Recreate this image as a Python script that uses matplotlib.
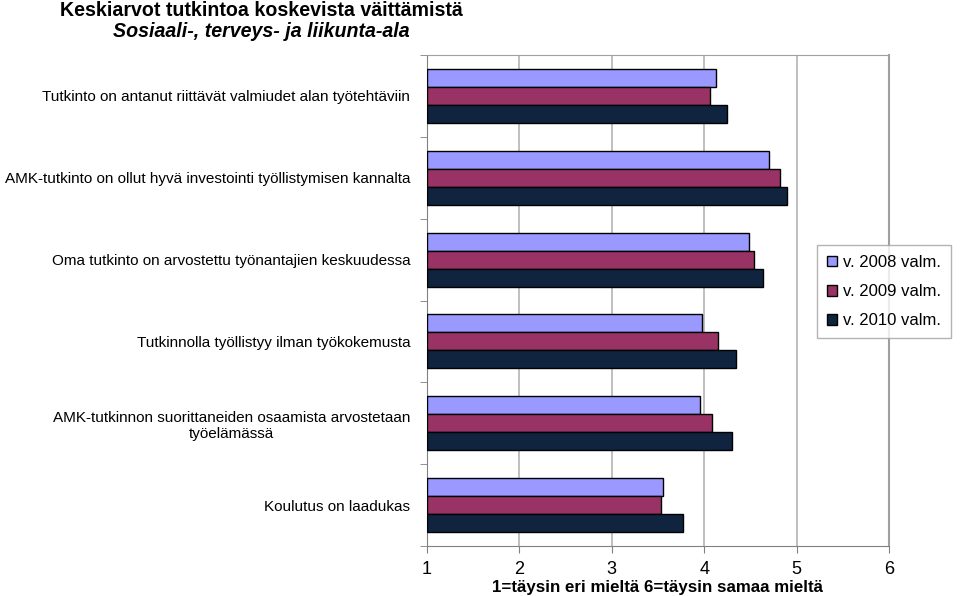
import matplotlib
matplotlib.use("Agg")
import matplotlib.pyplot as plt
import numpy as np

plt.rcParams['font.family'] = ['Liberation Sans', 'DejaVu Sans']

categories = [
    "Tutkinto on antanut riittävät valmiudet alan työtehtäviin",
    "AMK-tutkinto on ollut hyvä investointi työllistymisen kannalta",
    "Oma tutkinto on arvostettu työnantajien keskuudessa",
    "Tutkinnolla työllistyy ilman työkokemusta",
    "AMK-tutkinnon suorittaneiden osaamista arvostetaan\ntyöelämässä",
    "Koulutus on laadukas",
]
series_names = ["v. 2008 valm.", "v. 2009 valm.", "v. 2010 valm."]
v2008 = [4.13, 4.70, 4.48, 3.98, 3.95, 3.55]
v2009 = [4.06, 4.82, 4.54, 4.15, 4.08, 3.53]
v2010 = [4.25, 4.90, 4.64, 4.34, 4.30, 3.77]
colors = ["#9999FF", "#993366", "#10243F"]
xticks = [1, 2, 3, 4, 5, 6]

fig = plt.figure(figsize=(9.6, 5.96), dpi=100)
ax = fig.add_axes([0.4448, 0.0839, 0.4812, 0.8238])

y = np.arange(len(categories))
h = 0.22
for i, (vals, name, col) in enumerate(zip([v2008, v2009, v2010], series_names, colors)):
    ax.barh(y + (i - 1) * h, np.array(vals) - 1, left=1, height=h, color=col,
            edgecolor="black", linewidth=1.0, label=name, zorder=3)

ax.set_xlim(1, 6)
ax.set_ylim(len(categories) - 0.5, -0.5)
ax.set_xticks(xticks)
ax.set_xticklabels([str(t) for t in xticks], fontsize=13)
ax.tick_params(axis="x", direction="out", length=5, color="#808080", pad=6)

ax.set_yticks(y)
ax.set_yticklabels(categories, fontsize=11, multialignment="center")
ax.tick_params(axis="y", length=0, pad=12)
ax.set_yticks(np.arange(-0.5, len(categories) + 0.5, 1), minor=True)
ax.tick_params(axis="y", which="minor", length=5, color="#808080")

ax.grid(axis="x", color="#B4B4B4", linewidth=1.2, zorder=0)
ax.spines["left"].set_color("#808080")
ax.spines["bottom"].set_color("#808080")
ax.spines["top"].set_color("#A0A0A0")
ax.spines["right"].set_color("#A0A0A0")
ax.spines["right"].set_linewidth(1.5)

ax.set_xlabel("1=täysin eri mieltä 6=täysin samaa mieltä", fontsize=12.2,
              fontweight="bold", labelpad=1)

leg = ax.legend(loc="upper left", bbox_to_anchor=(0.845, 0.613), fontsize=12,
                frameon=True, fancybox=False, edgecolor="#A0A0A0",
                handlelength=0.6, handleheight=0.6, handletextpad=0.35,
                labelspacing=0.85, borderpad=0.6, borderaxespad=0)
leg.get_frame().set_linewidth(1.0)

fig.text(0.2725, 0.999, "Keskiarvot tutkintoa koskevista väittämistä", ha="center",
         va="top", fontsize=14.1, fontweight="bold")
fig.text(0.2725, 0.963, "Sosiaali-, terveys- ja liikunta-ala", ha="center",
         va="top", fontsize=14.1, fontweight="bold", style="italic")

fig.savefig("out.png", dpi=100)
